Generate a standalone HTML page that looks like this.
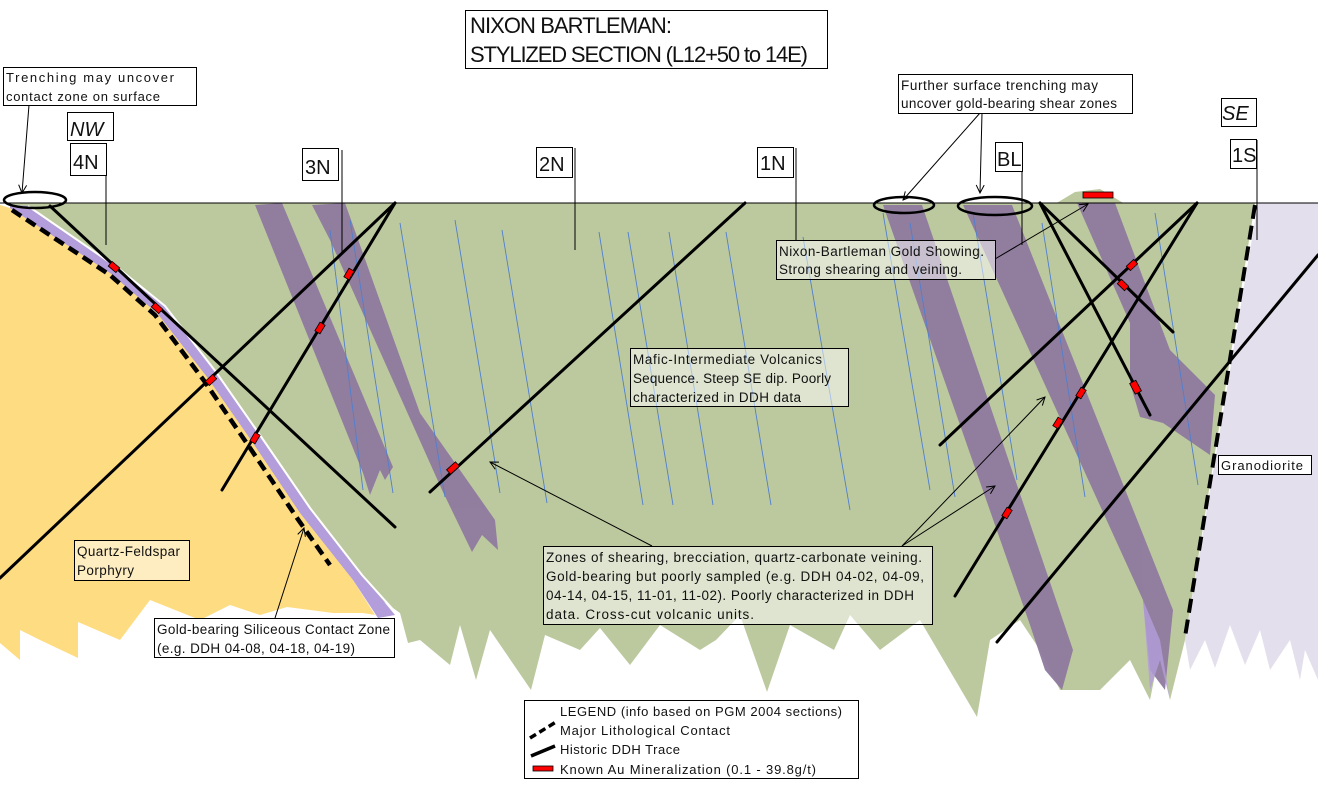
<!DOCTYPE html>
<html><head><meta charset="utf-8"><style>
html,body{margin:0;padding:0;background:#fff;}
svg{display:block;}
text{font-family:"Liberation Sans Narrow","Liberation Sans",sans-serif;fill:#111;}
</style></head><body>
<svg width="1318" height="786" viewBox="0 0 1318 786" xmlns="http://www.w3.org/2000/svg">
<defs>
<marker id="ar" markerWidth="10" markerHeight="10" refX="9" refY="5" orient="auto" markerUnits="userSpaceOnUse"><path d="M1,1 L9,5 L1,9" fill="none" stroke="#000" stroke-width="1"/></marker>
</defs>
<polygon fill="#bcc99f" points="10,203 1255,203 1185,640 1170,700 1160,650 1150,700 1130,660 1100,690 1060,690 1040,650 1020,620 990,640 977,717 920,620 880,650 850,615 834,650 790,625 767,692 740,615 716,640 700,650 660,625 630,665 600,628 580,650 545,635 531,690 490,630 476,680 460,625 450,665 420,640 408,643 400,613 353,580 300,513 253,443 207,377 157,313 110,273"/>
<polygon fill="#bcc99f" points="1055,204 1075,192 1100,189 1125,204"/>
<polygon fill="#e4dfec" points="1258,203 1318,203 1318,680 1305,650 1300,680 1290,640 1270,670 1260,630 1245,665 1230,625 1215,668 1205,640 1190,670 1185,640"/>
<polygon fill="#fedc82" points="0,205 10,208 110,273 157,313 207,377 253,443 300,513 353,580 375,615 363,613 333,613 287,607 260,615 230,605 200,620 150,600 120,640 78,622 78,658 40,640 20,630 20,660 0,643"/>
<polygon fill="#b39ddb" points="10,205 28,206 118,268 165,306 216,372 262,438 310,508 362,575 395,615 378,618 353,580 300,513 253,443 207,377 157,313 110,273 10,208"/>
<polyline fill="none" stroke="#fff" stroke-width="2" points="28,206 118,268 165,306 216,372 262,438 310,508 362,575 398,615"/>
<g fill="#8f7a9e" opacity="0.95">
<polygon points="255,205 282,203 393,467 385,480 380,470 370,495 363,473"/>
<polygon points="312,205 345,203 420,413 495,520 498,550 482,535 472,552 442,490 330,240"/>
<polygon points="883,205 922,205 1073,650 1062,690 1045,670 1030,625"/>
<polygon points="963,205 1012,205 1173,610 1165,690 1150,670 1143,600"/>
<polygon points="1077,203 1115,203 1170,350 1215,395 1210,455 1163,423 1140,417 1130,383 1130,323"/>
</g>
<polygon fill="#b39ddb" points="1143,600 1160,640 1170,700 1160,660 1150,690" opacity="0.8"/>
<g stroke="#4f7fd0" stroke-width="0.9" fill="none">
<line x1="330" y1="230" x2="363" y2="490"/><line x1="350" y1="220" x2="393" y2="493"/>
<line x1="400" y1="223" x2="445" y2="497"/><line x1="455" y1="220" x2="500" y2="493"/>
<line x1="502" y1="230" x2="547" y2="503"/><line x1="599" y1="232" x2="643" y2="505"/>
<line x1="628" y1="232" x2="673" y2="505"/><line x1="669" y1="232" x2="713" y2="505"/>
<line x1="726" y1="232" x2="771" y2="505"/><line x1="803" y1="237" x2="850" y2="510"/>
<line x1="883" y1="213" x2="930" y2="490"/><line x1="910" y1="223" x2="955" y2="497"/>
<line x1="973" y1="213" x2="1017" y2="480"/><line x1="1042" y1="223" x2="1085" y2="497"/>
<line x1="1155" y1="213" x2="1198" y2="485"/>
</g>
<line x1="0" y1="203" x2="1318" y2="203" stroke="#000" stroke-width="1"/>
<polyline fill="none" stroke="#000" stroke-width="4.5" stroke-dasharray="11,6" points="12,210 110,275 155,315 205,382 250,448 297,518 330,565"/>
<line x1="1255" y1="205" x2="1185" y2="637" stroke="#000" stroke-width="4" stroke-dasharray="14,7"/>
<g stroke="#000" stroke-width="3" stroke-linecap="round">
<line x1="50" y1="206" x2="395" y2="527"/>
<line x1="0" y1="578" x2="395" y2="203"/>
<line x1="395" y1="203" x2="222" y2="490"/>
<line x1="745" y1="203" x2="430" y2="492"/>
<line x1="1040" y1="203" x2="1173" y2="332"/>
<line x1="1040" y1="203" x2="1150" y2="415"/>
<line x1="1197" y1="203" x2="940" y2="445"/>
<line x1="1197" y1="203" x2="955" y2="596"/>
<line x1="1318" y1="255" x2="997" y2="642"/>
</g>
<g fill="#f00" stroke="#000" stroke-width="0.8">
<rect x="-5" y="-3" width="10" height="6" transform="translate(114,267) rotate(40)"/>
<rect x="-5" y="-3" width="10" height="6" transform="translate(157,308) rotate(42)"/>
<rect x="-5" y="-3" width="10" height="6" transform="translate(211,380) rotate(-43)"/>
<rect x="-5" y="-3" width="10" height="6" transform="translate(255,438) rotate(-59)"/>
<rect x="-5" y="-3" width="10" height="6" transform="translate(349,274) rotate(-59)"/>
<rect x="-5" y="-3" width="10" height="6" transform="translate(320,328) rotate(-59)"/>
<rect x="-6" y="-3" width="12" height="6" transform="translate(453,468) rotate(-42)"/>
<rect x="-5" y="-3" width="10" height="6" transform="translate(1132,265) rotate(-43)"/>
<rect x="-5" y="-3" width="10" height="6" transform="translate(1123,285) rotate(44)"/>
<rect x="-6" y="-3" width="12" height="7" transform="translate(1136,387) rotate(62)"/>
<rect x="-5" y="-3" width="10" height="6" transform="translate(1081,393) rotate(-58)"/>
<rect x="-5" y="-3" width="10" height="6" transform="translate(1058,423) rotate(-58)"/>
<rect x="-5" y="-3" width="10" height="6" transform="translate(1007,513) rotate(-58)"/>
<rect x="1083" y="192" width="30" height="6"/>
</g>
<g fill="none" stroke="#000" stroke-width="2.5">
<ellipse cx="35" cy="200" rx="31" ry="8"/>
<ellipse cx="904" cy="205" rx="30" ry="8"/>
<ellipse cx="995" cy="206" rx="37" ry="9"/>
</g>
<g stroke="#000" stroke-width="1">
<line x1="106" y1="175" x2="106" y2="245"/>
<line x1="342" y1="150" x2="342" y2="255"/>
<line x1="575" y1="148" x2="575" y2="250"/>
<line x1="796" y1="148" x2="796" y2="240"/>
<line x1="1022" y1="144" x2="1022" y2="245"/>
<line x1="1257" y1="140" x2="1257" y2="240"/>
</g>
<g stroke="#000" stroke-width="1" fill="none" marker-end="url(#ar)">
<line x1="29" y1="105" x2="22" y2="193"/>
<line x1="980" y1="113" x2="903" y2="200"/>
<line x1="982" y1="113" x2="980" y2="193"/>
<line x1="995" y1="259" x2="1088" y2="204"/>
<line x1="275" y1="618" x2="304" y2="528"/>
<line x1="652" y1="546" x2="490" y2="462"/>
<line x1="902" y1="546" x2="1045" y2="397"/>
<line x1="902" y1="546" x2="995" y2="486"/>
</g>
<g stroke="#000" stroke-width="1">
<rect x="465.5" y="10.5" width="362" height="58" fill="#fff"/>
<rect x="3.5" y="67.5" width="193" height="38" fill="#fff"/>
<rect x="67.5" y="112.5" width="46" height="28" fill="#fff"/>
<rect x="70.5" y="143.5" width="36" height="32" fill="#fff"/>
<rect x="302.5" y="148.5" width="36" height="32" fill="#fff"/>
<rect x="536.5" y="147.5" width="36" height="30" fill="#fff"/>
<rect x="757.5" y="147.5" width="36" height="30" fill="#fff"/>
<rect x="995.5" y="142.5" width="27" height="29" fill="#fff"/>
<rect x="1221.5" y="98.5" width="35" height="28" fill="#fff"/>
<rect x="1230.5" y="139.5" width="26" height="29" fill="#fff"/>
<rect x="898.5" y="74.5" width="234" height="39" fill="#fff"/>
<rect x="776.5" y="240.5" width="219" height="39" fill="#fff" fill-opacity="0.5"/>
<rect x="630.5" y="348.5" width="218" height="58" fill="#fff" fill-opacity="0.5"/>
<rect x="1218.5" y="455.5" width="93" height="19" fill="#fff"/>
<rect x="74.5" y="540.5" width="115" height="40" fill="#fdedc0"/>
<rect x="543.5" y="546.5" width="389" height="78" fill="#fff" fill-opacity="0.5"/>
<rect x="154.5" y="618.5" width="240" height="39" fill="#fff"/>
<rect x="524.5" y="700.5" width="334" height="78" fill="#fff"/>
</g>
<text x="470" y="33" font-size="22" textLength="202">NIXON BARTLEMAN:</text>
<text x="470" y="62" font-size="22" textLength="338">STYLIZED SECTION (L12+50 to 14E)</text>
<text x="6" y="82" font-size="13" textLength="168">Trenching may uncover</text>
<text x="6" y="101" font-size="13" textLength="154">contact zone on surface</text>
<text x="70" y="136" font-size="20" font-style="italic">NW</text>
<text x="73" y="169" font-size="20">4N</text>
<text x="305" y="174" font-size="20">3N</text>
<text x="539" y="171" font-size="20">2N</text>
<text x="760" y="170" font-size="20">1N</text>
<text x="997" y="166" font-size="20">BL</text>
<text x="1222" y="120" font-size="20" font-style="italic">SE</text>
<text x="1232" y="162" font-size="20">1S</text>
<text x="901" y="90" font-size="13.5" textLength="197">Further  surface trenching may</text>
<text x="901" y="108" font-size="13.5" textLength="216">uncover gold-bearing shear zones</text>
<text x="779" y="256" font-size="13.5" textLength="205">Nixon-Bartleman  Gold Showing.</text>
<text x="779" y="274" font-size="13.5" textLength="183">Strong  shearing and veining.</text>
<text x="633" y="364" font-size="13.5" textLength="189">Mafic-Intermediate Volcanics</text>
<text x="633" y="383" font-size="13.5" textLength="198">Sequence. Steep SE dip. Poorly</text>
<text x="633" y="402" font-size="13.5" textLength="168">characterized in DDH data</text>
<text x="1221" y="470" font-size="13" textLength="82">Granodiorite</text>
<text x="77" y="556" font-size="13.5" textLength="103">Quartz-Feldspar</text>
<text x="77" y="575" font-size="13.5" textLength="57">Porphyry</text>
<text x="546" y="562" font-size="13.5" textLength="376">Zones of shearing, brecciation, quartz-carbonate  veining.</text>
<text x="546" y="581" font-size="13.5" textLength="378">Gold-bearing but poorly sampled (e.g.  DDH 04-02, 04-09,</text>
<text x="546" y="600" font-size="13.5" textLength="368">04-14, 04-15, 11-01, 11-02). Poorly  characterized in DDH</text>
<text x="546" y="619" font-size="13.5" textLength="208">data. Cross-cut volcanic units.</text>
<text x="157" y="634" font-size="13.5" textLength="233">Gold-bearing Siliceous Contact Zone</text>
<text x="157" y="653" font-size="13.5" textLength="198">(e.g. DDH 04-08, 04-18, 04-19)</text>
<text x="560" y="716" font-size="13" textLength="282">LEGEND (info based on PGM 2004 sections)</text>
<text x="560" y="735" font-size="13" textLength="170">Major Lithological Contact</text>
<text x="560" y="754" font-size="13" textLength="120">Historic DDH Trace</text>
<text x="560" y="774" font-size="13" textLength="256">Known Au Mineralization (0.1 - 39.8g/t)</text>
<line x1="530" y1="738" x2="556" y2="722" stroke="#000" stroke-width="3.5" stroke-dasharray="7,4"/>
<line x1="531" y1="756" x2="555" y2="746" stroke="#000" stroke-width="3.5"/>
<rect x="533" y="766" width="20" height="5" fill="#f00" stroke="#000" stroke-width="0.8"/>
</svg>
</body></html>
